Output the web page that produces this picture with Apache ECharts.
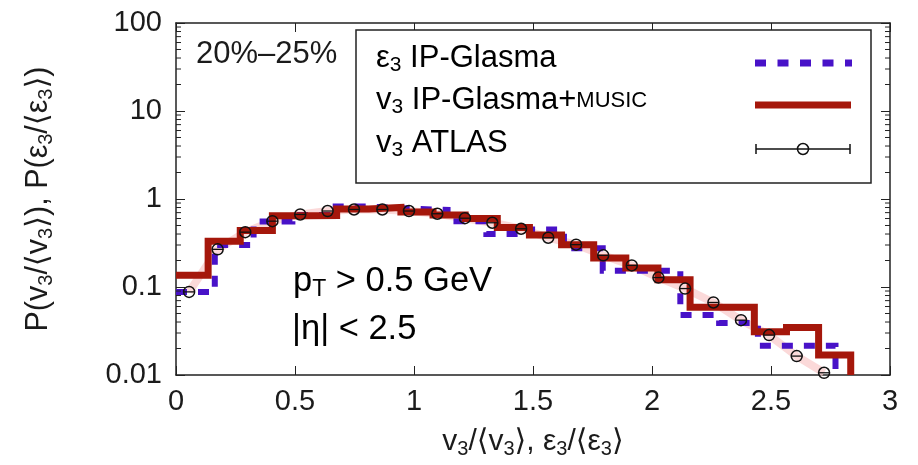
<!DOCTYPE html>
<html><head><meta charset="utf-8">
<script src="https://cdn.jsdelivr.net/npm/echarts@6/dist/echarts.min.js"></script>
<style>html,body{margin:0;padding:0;background:#fff}#c{width:918px;height:465px}</style>
</head><body><div id="c"></div>
<script>
// ---- data ----
const xTickLabels = ['0', '0.5', '1', '1.5', '2', '2.5', '3'];
const yTickLabels = ['0.01', '0.1', '1', '10', '100'];
const yMinorTicks = [0.02, 0.03, 0.04, 0.05, 0.06, 0.07, 0.08, 0.09,
                     0.2, 0.3, 0.4, 0.5, 0.6, 0.7, 0.8, 0.9,
                     2, 3, 4, 5, 6, 7, 8, 9,
                     20, 30, 40, 50, 60, 70, 80, 90];

// v3 IP-Glasma+MUSIC histogram
const redBinEdges = [0, 0.135, 0.27, 0.405, 0.54, 0.675, 0.81, 0.945, 1.08, 1.215, 1.35,
                     1.485, 1.62, 1.755, 1.89, 2.025, 2.16, 2.295, 2.43, 2.565, 2.70, 2.835];
const redValues = [0.136, 0.33, 0.44, 0.645, 0.65, 0.77, 0.80, 0.71, 0.66, 0.60, 0.475,
                   0.39, 0.303, 0.213, 0.164, 0.121, 0.059, 0.059, 0.031, 0.0347, 0.0169];

// eps3 IP-Glasma histogram
const blueBinEdges = [0, 0.163, 0.326, 0.489, 0.652, 0.815, 0.978, 1.141, 1.304, 1.467,
                      1.63, 1.793, 1.956, 2.119, 2.282, 2.445, 2.608, 2.771];
const blueValues = [0.088, 0.30, 0.555, 0.66, 0.82, 0.78, 0.75, 0.56, 0.40, 0.45,
                    0.275, 0.153, 0.153, 0.048, 0.039, 0.0215, 0.0215];

// v3 ATLAS
const atlasX = [0.055, 0.175, 0.291, 0.405, 0.522, 0.637, 0.748, 0.867, 0.979, 1.098, 1.214, 1.329,
                1.45, 1.564, 1.681, 1.795, 1.915, 2.027, 2.139, 2.258, 2.374, 2.492, 2.608, 2.723];
const atlasY = [0.088, 0.268, 0.42, 0.56, 0.667, 0.73, 0.76, 0.76, 0.73, 0.68, 0.605, 0.537,
                0.459, 0.363, 0.303, 0.229, 0.176, 0.128, 0.096, 0.0667, 0.042, 0.0284, 0.0164, 0.0106];

const yFloor = 0.01;

// ---- build ----
function steps(edges, vals) {
  const pts = [];
  for (let i = 0; i < vals.length; i++) {
    pts.push([edges[i], vals[i]]);
    pts.push([edges[i + 1], vals[i]]);
  }
  pts.push([edges[edges.length - 1], yFloor]);
  return pts;
}
const atlasData = atlasX.map((x, i) => [x, atlasY[i]]);

const FONT = '"Liberation Sans", Arial, "DejaVu Sans", sans-serif';
const TXT = '#1b1b1b';
const RED = '#a5170b';
const BLUE = '#4812c8';

function rich(fs, subfs, lh, sublh, mratio) {
  return {
    n: { fontSize: fs, fontFamily: FONT, color: TXT, lineHeight: lh },
    s: { fontSize: subfs, fontFamily: FONT, color: TXT, lineHeight: sublh, verticalAlign: 'bottom' },
    m: { fontSize: Math.round(fs * (mratio || 0.7)), fontFamily: FONT, color: TXT, lineHeight: lh }
  };
}

const chart = echarts.init(document.getElementById('c'), null, { renderer: 'canvas' });

const axisLineStyle = { color: '#222', width: 1.5 };
const option = {
  animation: false,
  backgroundColor: '#fff',
  grid: { left: 176, right: 28, top: 23, bottom: 90, containLabel: false },
  xAxis: [
    {
      type: 'value', min: 0, max: 3, interval: 0.5, position: 'bottom',
      axisLine: { show: true, onZero: false, lineStyle: axisLineStyle },
      axisTick: { show: true, inside: true, length: 9, lineStyle: { color: '#222', width: 1 } },
      splitLine: { show: false },
      axisLabel: {
        margin: 12, fontSize: 29, fontFamily: FONT, color: TXT,
        formatter: v => xTickLabels[Math.round(v * 2)]
      },
      name: '{n|v}{s|3}{n|/⟨v}{s|3}{n|⟩, ε}{s|3}{n|/⟨ε}{s|3}{n|⟩}',
      nameLocation: 'middle', nameGap: 50,
      nameTextStyle: { rich: rich(30, 20, 34, 12) }
    },
    {
      type: 'value', min: 0, max: 3, interval: 0.5, position: 'top',
      axisLine: { show: true, onZero: false, lineStyle: axisLineStyle },
      axisTick: { show: true, inside: true, length: 9, lineStyle: { color: '#222', width: 1 } },
      splitLine: { show: false }, axisLabel: { show: false }
    }
  ],
  yAxis: [
    {
      type: 'log', logBase: 10, min: 0.01, max: 100, position: 'left',
      axisLine: { show: true, onZero: false, lineStyle: axisLineStyle },
      axisTick: { show: true, inside: true, length: 9, lineStyle: { color: '#222', width: 1 } },
      splitLine: { show: false },
      axisLabel: {
        margin: 14, fontSize: 29, fontFamily: FONT, color: TXT,
        formatter: v => yTickLabels[Math.round(Math.log10(v)) + 2]
      },
      name: '{n|P(v}{s|3}{n|/⟨v}{s|3}{n|⟩), P(ε}{s|3}{n|/⟨ε}{s|3}{n|⟩)}',
      nameLocation: 'middle', nameGap: 120,
      nameTextStyle: { rich: rich(30.5, 20, 34, 12) }
    },
    {
      type: 'log', logBase: 10, min: 0.01, max: 100, position: 'right',
      axisLine: { show: true, onZero: false, lineStyle: axisLineStyle },
      axisTick: { show: true, inside: true, length: 9, lineStyle: { color: '#222', width: 1 } },
      splitLine: { show: false }, axisLabel: { show: false }
    }
  ],
  series: [
    {
      name: 'ATLAS band', type: 'line', data: atlasData, symbol: 'none', silent: true, z: 1,
      lineStyle: { color: '#f9cccc', width: 8, opacity: 0.75 }
    },
    {
      name: 'ε3 IP-Glasma', type: 'line', data: steps(blueBinEdges, blueValues), symbol: 'none', z: 2,
      lineStyle: { color: BLUE, width: 6, type: [11, 11], cap: 'butt', join: 'miter' }
    },
    {
      name: 'v3 IP-Glasma+MUSIC', type: 'line', data: steps(redBinEdges, redValues), symbol: 'none', z: 3,
      lineStyle: { color: RED, width: 7, join: 'miter' }
    },
    {
      name: 'v3 ATLAS', type: 'custom', data: atlasData, z: 4,
      renderItem: function (params, api) {
        const p = api.coord([api.value(0), api.value(1)]);
        return {
          type: 'group',
          children: [
            { type: 'line', shape: { x1: p[0] - 5.5, y1: p[1], x2: p[0] + 5.5, y2: p[1] },
              style: { stroke: '#111', lineWidth: 1.3 } },
            { type: 'circle', shape: { cx: p[0], cy: p[1], r: 5.5 },
              style: { fill: 'none', stroke: '#111', lineWidth: 1.5 } }
          ]
        };
      }
    },
    {
      name: 'minor ticks', type: 'custom', silent: true, z: 5,
      data: yMinorTicks.map(v => [0, v]),
      renderItem: function (params, api) {
        const cs = params.coordSys;
        const p = api.coord([0, api.value(1)]);
        const xl = cs.x, xr = cs.x + cs.width;
        return {
          type: 'group',
          children: [
            { type: 'line', shape: { x1: xl, y1: p[1], x2: xl + 5, y2: p[1] }, style: { stroke: '#222', lineWidth: 1 } },
            { type: 'line', shape: { x1: xr, y1: p[1], x2: xr - 5, y2: p[1] }, style: { stroke: '#222', lineWidth: 1 } }
          ]
        };
      }
    }
  ],
  graphic: [
    { type: 'text', left: 196, top: 39, z: 10,
      style: { text: '20%–25%', fontSize: 31, fontFamily: FONT, fill: TXT } },
    { type: 'rect', shape: { x: 356, y: 30, width: 515, height: 153 }, z: 10,
      style: { fill: '#fff', stroke: '#222', lineWidth: 1.5 } },
    { type: 'text', left: 376, top: 43, z: 11,
      style: { text: '{n|ε}{s|3}{n| IP-Glasma}', rich: rich(31, 21, 35, 12) } },
    { type: 'text', left: 376, top: 85, z: 11,
      style: { text: '{n|v}{s|3}{n| IP-Glasma+}{m|MUSIC}', rich: rich(31, 21, 35, 12, 0.72) } },
    { type: 'text', left: 376, top: 128, z: 11,
      style: { text: '{n|v}{s|3}{n| ATLAS}', rich: rich(31, 21, 35, 12) } },
    { type: 'line', z: 11, shape: { x1: 755, y1: 63, x2: 852, y2: 63 },
      style: { stroke: BLUE, lineWidth: 7, lineDash: [11, 11.5] } },
    { type: 'line', z: 11, shape: { x1: 755, y1: 105, x2: 851, y2: 105 },
      style: { stroke: RED, lineWidth: 7 } },
    { type: 'line', z: 11, shape: { x1: 756, y1: 149, x2: 850, y2: 149 },
      style: { stroke: '#111', lineWidth: 1.5 } },
    { type: 'line', z: 11, shape: { x1: 756, y1: 144, x2: 756, y2: 154 },
      style: { stroke: '#111', lineWidth: 1.5 } },
    { type: 'line', z: 11, shape: { x1: 850, y1: 144, x2: 850, y2: 154 },
      style: { stroke: '#111', lineWidth: 1.5 } },
    { type: 'circle', z: 11, shape: { cx: 803, cy: 149, r: 5.5 },
      style: { fill: 'none', stroke: '#111', lineWidth: 1.5 } },
    { type: 'text', left: 293, top: 264, z: 10,
      style: { text: '{n|p}{s|T}{n| > 0.5 GeV}', rich: rich(34.5, 23, 40, 14) } },
    { type: 'text', left: 292, top: 312, z: 10,
      style: { text: '{n||η| < 2.5}', rich: rich(34.5, 23, 40, 14) } }
  ]
};
chart.setOption(option);
</script>
</body></html>
